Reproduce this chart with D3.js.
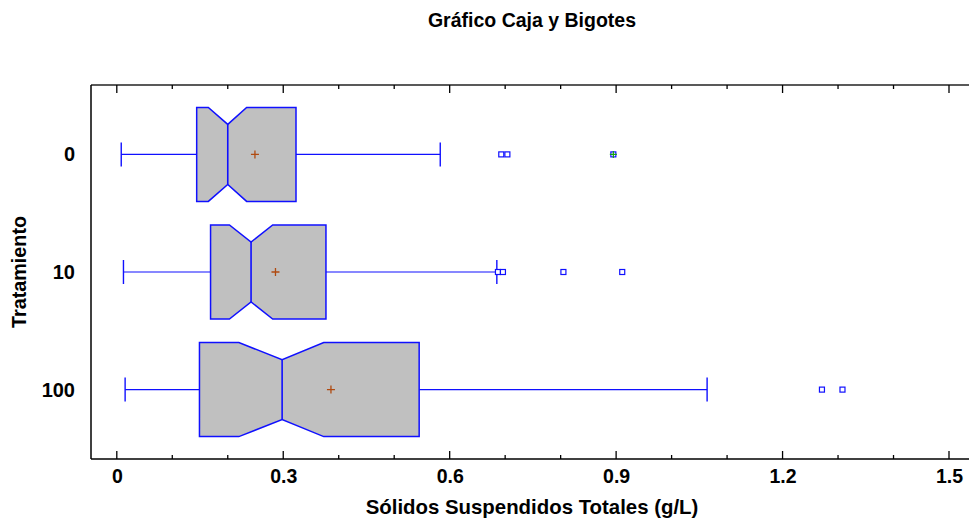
<!DOCTYPE html>
<html>
<head>
<meta charset="utf-8">
<script src="https://cdn.jsdelivr.net/npm/d3@7/dist/d3.min.js"></script>
<style>
  body { margin: 0; background: #fff; }
  svg { display: block; }
  text { font-family: "Liberation Sans", Arial, sans-serif; font-weight: bold; fill: #000; }
</style>
</head>
<body>
<svg id="chart" width="969" height="520"></svg>
<script>
// ---- data ----
const categories   = ["0", "10", "100"];
const whiskerLow   = [0.008, 0.012, 0.015];
const q1           = [0.144, 0.169, 0.149];
const notchLow     = [0.165, 0.203, 0.220];
const median       = [0.200, 0.242, 0.298];
const notchHigh    = [0.234, 0.281, 0.373];
const q3           = [0.323, 0.377, 0.545];
const whiskerHigh  = [0.583, 0.685, 1.064];
const means        = [0.249, 0.286, 0.386];
const outliers     = [[0.693, 0.704, 0.895], [0.687, 0.696, 0.805, 0.911], [1.271, 1.308]];
const farOutliers  = [[0.895], [], []];
const xTicksMajor  = [0, 0.3, 0.6, 0.9, 1.2, 1.5];
const xTicksMinor  = [0, 0.1, 0.2, 0.3, 0.4, 0.5, 0.6, 0.7, 0.8, 0.9, 1.0, 1.1, 1.2, 1.3, 1.4, 1.5];
const titleText    = "Gráfico Caja y Bigotes";
const xTitleText   = "Sólidos Suspendidos Totales (g/L)";
const yTitleText   = "Tratamiento";

// ---- layout ----
const svg = d3.select("#chart");
const frame = { left: 91, top: 85, bottom: 459, right: 975 };
const x = d3.scaleLinear().domain([0, 1.5]).range([116.8, 949]);
const y = d3.scalePoint().domain(categories).range([frame.top, frame.bottom]).padding(0.59);

const BLUE = "#1010ff";
const boxHalf = 47;
const waistHalf = 30;
const capHalf = 12;

// frame
svg.append("line").attr("x1", frame.left).attr("x2", frame.right).attr("y1", frame.top).attr("y2", frame.top)
  .attr("stroke", "#222").attr("stroke-width", 1.5);
svg.append("line").attr("x1", frame.left).attr("x2", frame.right).attr("y1", frame.bottom).attr("y2", frame.bottom)
  .attr("stroke", "#000").attr("stroke-width", 1.5);
svg.append("line").attr("x1", frame.left).attr("x2", frame.left).attr("y1", frame.top).attr("y2", frame.bottom)
  .attr("stroke", "#000").attr("stroke-width", 1.5);

// ticks (inward, top and bottom)
const isMajor = v => xTicksMajor.some(m => Math.abs(m - v) < 1e-9);
const tg = svg.append("g");
xTicksMinor.forEach(v => {
  const len = isMajor(v) ? 8 : 4;
  tg.append("line").attr("x1", x(v)).attr("x2", x(v)).attr("y1", frame.bottom).attr("y2", frame.bottom - len)
    .attr("stroke", "#000").attr("stroke-width", 1.3);
  tg.append("line").attr("x1", x(v)).attr("x2", x(v)).attr("y1", frame.top).attr("y2", frame.top + len)
    .attr("stroke", "#000").attr("stroke-width", 1.3);
});

// x tick labels via d3 axis (lines hidden)
const xAxis = d3.axisBottom(x).tickValues(xTicksMajor).tickSize(0).tickPadding(0)
  .tickFormat(d => d === 0 ? "0" : d3.format(".1f")(d));
const gx = svg.append("g").attr("transform", `translate(0,${frame.bottom + 10})`).call(xAxis);
gx.select(".domain").remove();
gx.selectAll("text").attr("font-size", 19.5).attr("font-family", "Liberation Sans, Arial, sans-serif")
  .attr("font-weight", "bold").attr("fill", "#000");

// y labels via d3 axis
const yAxis = d3.axisLeft(y).tickSize(0).tickPadding(0);
const gy = svg.append("g").attr("transform", `translate(75,0)`).call(yAxis);
gy.select(".domain").remove();
gy.selectAll("text").attr("font-size", 20).attr("font-family", "Liberation Sans, Arial, sans-serif")
  .attr("font-weight", "bold").attr("fill", "#000");

// boxes
const plot = svg.append("g");
categories.forEach((c, i) => {
  const cy = y(c);
  // whiskers
  plot.append("line").attr("x1", x(whiskerLow[i])).attr("x2", x(q1[i])).attr("y1", cy).attr("y2", cy)
    .attr("stroke", BLUE).attr("stroke-width", 1.2);
  plot.append("line").attr("x1", x(q3[i])).attr("x2", x(whiskerHigh[i])).attr("y1", cy).attr("y2", cy)
    .attr("stroke", BLUE).attr("stroke-width", 1.2);
  [whiskerLow[i], whiskerHigh[i]].forEach(v => {
    plot.append("line").attr("x1", x(v)).attr("x2", x(v)).attr("y1", cy - capHalf).attr("y2", cy + capHalf)
      .attr("stroke", BLUE).attr("stroke-width", 1.4);
  });
  // notched box
  const pts = [
    [x(q1[i]), cy - boxHalf], [x(notchLow[i]), cy - boxHalf], [x(median[i]), cy - waistHalf],
    [x(notchHigh[i]), cy - boxHalf], [x(q3[i]), cy - boxHalf], [x(q3[i]), cy + boxHalf],
    [x(notchHigh[i]), cy + boxHalf], [x(median[i]), cy + waistHalf], [x(notchLow[i]), cy + boxHalf],
    [x(q1[i]), cy + boxHalf]
  ];
  plot.append("polygon").attr("points", pts.map(p => p.join(",")).join(" "))
    .attr("fill", "#c0c0c0").attr("stroke", BLUE).attr("stroke-width", 1.5).attr("stroke-linejoin", "miter");
  plot.append("line").attr("x1", x(median[i])).attr("x2", x(median[i])).attr("y1", cy - waistHalf).attr("y2", cy + waistHalf)
    .attr("stroke", BLUE).attr("stroke-width", 1.6);
  // mean marker
  const mx = x(means[i]);
  plot.append("path").attr("d", `M${mx - 4},${cy}H${mx + 4}M${mx},${cy - 4}V${cy + 4}`)
    .attr("stroke", "#b04a10").attr("stroke-width", 1.3);
  // outliers
  outliers[i].forEach(v => {
    plot.append("rect").attr("x", x(v) - 2.5).attr("y", cy - 2.5).attr("width", 5).attr("height", 5)
      .attr("fill", "#fff").attr("stroke", BLUE).attr("stroke-width", 1.2);
  });
  farOutliers[i].forEach(v => {
    const fx = x(v);
    plot.append("path").attr("d", `M${fx - 3.5},${cy}H${fx + 3.5}M${fx},${cy - 3.5}V${cy + 3.5}`)
      .attr("stroke", "#10a010").attr("stroke-width", 1.2);
  });
});

// titles
svg.append("text").attr("x", 532).attr("y", 27).attr("text-anchor", "middle").attr("font-size", 19.5).text(titleText);
svg.append("text").attr("x", 532).attr("y", 514).attr("text-anchor", "middle").attr("font-size", 20.4).text(xTitleText);
svg.append("text").attr("transform", "translate(26,272) rotate(-90)").attr("text-anchor", "middle")
  .attr("font-size", 19.8).text(yTitleText);
</script>
</body>
</html>
